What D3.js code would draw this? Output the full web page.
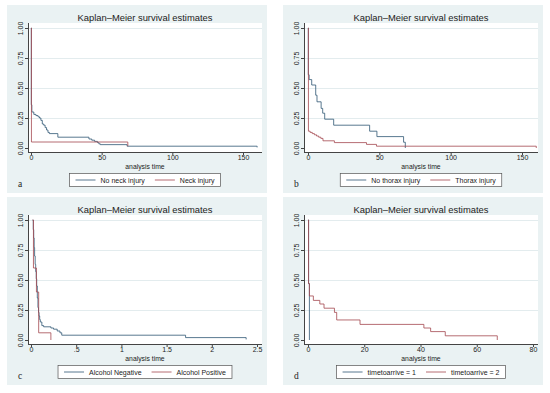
<!DOCTYPE html>
<html>
<head>
<meta charset="utf-8">
<script src="https://cdnjs.cloudflare.com/ajax/libs/d3/7.8.5/d3.min.js"></script>
<style>
  body { margin: 0; background: #fff; }
  svg { display: block; }
  text { font-family: "Liberation Sans", Arial, sans-serif; fill: #222; }
  .letter { font-family: "Liberation Serif", "Times New Roman", serif; }
</style>
</head>
<body>
<div class="Chart"></div>
<script>
// Kaplan-Meier panels (a-d)

// y axis (same for every panel)
let yTicks = [0, 0.25, 0.5, 0.75, 1];

// a: neck injury
let xTicksA = [0, 50, 100, 150];
let xLabelsA = ["0", "50", "100", "150"];
let noNeckTime = [0, 0.2, 0.6, 2, 3.5, 5, 6, 7, 8, 9, 10, 11, 12, 13, 19, 41, 43, 45, 47, 48, 49, 68, 160];
let noNeckSurv = [1, 0.36, 0.30, 0.28, 0.27, 0.26, 0.25, 0.23, 0.20, 0.19, 0.17, 0.15, 0.13, 0.12, 0.09, 0.075, 0.065, 0.055, 0.045, 0.035, 0.028, 0.015, 0.005];
let neckTime = [0, 0.3, 68.5];
let neckSurv = [1, 0.05, 0.015];

// b: thorax injury
let xTicksB = [0, 50, 100, 150];
let xLabelsB = ["0", "50", "100", "150"];
let noThoraxTime = [0, 0.2, 0.8, 2.6, 5.4, 6.3, 9.2, 10.3, 11.7, 18, 43.2, 48.3, 67, 68.2];
let noThoraxSurv = [1, 0.61, 0.57, 0.525, 0.44, 0.385, 0.33, 0.29, 0.24, 0.19, 0.14, 0.095, 0.048, 0];
let thoraxTime = [0, 0.3, 1.5, 3, 4.5, 6, 7.5, 9, 10.5, 18.5, 41, 48, 160];
let thoraxSurv = [1, 0.14, 0.13, 0.12, 0.11, 0.10, 0.09, 0.08, 0.06, 0.045, 0.03, 0.015, 0];

// c: alcohol
let xTicksC = [0, 0.5, 1, 1.5, 2, 2.5];
let xLabelsC = ["0", ".5", "1", "1.5", "2", "2.5"];
let alcNegTime = [0.018, 0.025, 0.03, 0.035, 0.04, 0.046, 0.052, 0.058, 0.063, 0.07, 0.077, 0.083, 0.089, 0.096, 0.103, 0.12, 0.14, 0.22, 0.25, 0.29, 0.32, 0.34, 1.71, 2.38];
let alcNegSurv = [1, 0.92, 0.85, 0.77, 0.7, 0.63, 0.57, 0.51, 0.45, 0.35, 0.27, 0.23, 0.2, 0.17, 0.15, 0.12, 0.11, 0.10, 0.09, 0.075, 0.06, 0.04, 0.02, 0.005];
let alcPosTime = [0.018, 0.027, 0.06, 0.085, 0.22];
let alcPosSurv = [1, 0.6, 0.4, 0.06, 0];

// d: time to arrive
let xTicksD = [0, 20, 40, 60, 80];
let xLabelsD = ["0", "20", "40", "60", "80"];
let arrive1Time = [0, 0.2, 0.5];
let arrive1Surv = [1, 0.47, 0];
let arrive2Time = [0, 0.2, 0.5, 1.9, 4.2, 5.7, 9.4, 10.2, 18.5, 41.2, 43.6, 48.8, 67.3];
let arrive2Surv = [1, 0.47, 0.367, 0.33, 0.30, 0.265, 0.23, 0.167, 0.13, 0.10, 0.07, 0.035, 0];

let navy = "#2f5773";
let maroon = "#a3474f";

let svgWidth = 550;
let svgHeight = 393;

let svg = d3.select(".Chart")
  .append("svg")
  .attr("width", svgWidth)
  .attr("height", svgHeight);

// panel layout (local coords, every panel is the same box shifted)
let box = { left: 7, top: 5, width: 260, height: 188 };
let plot = { left: 28, right: 262, top: 23, bottom: 152 };

let panels = [
  { letter: "a", dx: 0, dy: 0, xTicks: xTicksA, xLabels: xLabelsA, xRange: [31, 243],
    series: [[noNeckTime, noNeckSurv, navy], [neckTime, neckSurv, maroon]],
    legend: ["No neck injury", "Neck injury"] },
  { letter: "b", dx: 276, dy: 0, xTicks: xTicksB, xLabels: xLabelsB, xRange: [32, 246],
    series: [[noThoraxTime, noThoraxSurv, navy], [thoraxTime, thoraxSurv, maroon]],
    legend: ["No thorax injury", "Thorax injury"] },
  { letter: "c", dx: 0, dy: 192, xTicks: xTicksC, xLabels: xLabelsC, xRange: [31, 257],
    series: [[alcNegTime, alcNegSurv, navy], [alcPosTime, alcPosSurv, maroon]],
    legend: ["Alcohol Negative", "Alcohol Positive"] },
  { letter: "d", dx: 276, dy: 192, xTicks: xTicksD, xLabels: xLabelsD, xRange: [32, 257],
    series: [[arrive1Time, arrive1Surv, navy], [arrive2Time, arrive2Surv, maroon]],
    legend: ["timetoarrive = 1", "timetoarrive = 2"] }
];

let yScale = d3.scaleLinear().domain([0, 1]).range([148, 28]);

panels.forEach(function(p) {
  let g = svg.append("g").attr("transform", `translate(${p.dx}, ${p.dy})`);

  let xScale = d3.scaleLinear()
    .domain([p.xTicks[0], p.xTicks[p.xTicks.length - 1]])
    .range(p.xRange);

  // background + white plot region
  g.append("rect")
    .attr("x", box.left).attr("y", box.top)
    .attr("width", box.width).attr("height", box.height)
    .attr("fill", "#eaf2f3");

  g.append("rect")
    .attr("x", plot.left).attr("y", plot.top)
    .attr("width", plot.right - plot.left).attr("height", plot.bottom - plot.top)
    .attr("fill", "#fff");

  // gridlines
  g.selectAll(".grid")
    .data(yTicks.slice(1))
    .enter()
    .append("line")
    .attr("x1", plot.left).attr("x2", plot.right)
    .attr("y1", d => Math.round(yScale(d)) + 0.5)
    .attr("y2", d => Math.round(yScale(d)) + 0.5)
    .attr("stroke", "#e3ecee")
    .attr("stroke-width", 1);

  // y axis
  let yAxis = d3.axisLeft(yScale).tickValues(yTicks).tickFormat(d3.format(".2f")).tickSize(3);
  let yg = g.append("g").attr("transform", `translate(${plot.left}, 0)`).call(yAxis);
  yg.select(".domain").remove();
  yg.selectAll(".tick line").attr("stroke", "#444");
  yg.selectAll(".tick text")
    .attr("transform", "rotate(-90)")
    .attr("x", 0).attr("y", -5.5).attr("dy", 0)
    .style("text-anchor", "middle")
    .style("font-size", "7px")
    .style("font-family", "'Liberation Sans', Arial, sans-serif")
    .attr("fill", "#222");
  g.append("line")
    .attr("x1", plot.left + 0.5).attr("x2", plot.left + 0.5)
    .attr("y1", plot.top).attr("y2", plot.bottom)
    .attr("stroke", "#444");

  // x axis
  let xAxis = d3.axisBottom(xScale).tickValues(p.xTicks)
    .tickFormat((d, i) => p.xLabels[i]).tickSize(3);
  let xg = g.append("g").attr("transform", `translate(0, ${plot.bottom})`).call(xAxis);
  xg.select(".domain").remove();
  xg.selectAll(".tick line").attr("stroke", "#444");
  xg.selectAll(".tick text")
    .attr("y", 3.5).attr("dy", "0.71em")
    .style("font-size", "7px")
    .style("font-family", "'Liberation Sans', Arial, sans-serif")
    .attr("fill", "#222");
  g.append("line")
    .attr("x1", plot.left).attr("x2", plot.right)
    .attr("y1", plot.bottom + 0.5).attr("y2", plot.bottom + 0.5)
    .attr("stroke", "#444");

  // survival curves
  let line = d3.line()
    .curve(d3.curveStepAfter)
    .x(d => xScale(d[0]))
    .y(d => yScale(d[1]));

  p.series.forEach(function(s) {
    g.append("path")
      .datum(d3.zip(s[0], s[1]))
      .attr("d", line)
      .attr("fill", "none")
      .attr("stroke", s[2])
      .attr("stroke-width", 0.8);
  });

  // titles
  g.append("text")
    .attr("x", 145).attr("y", 21)
    .attr("text-anchor", "middle")
    .style("font-size", "9.4px")
    .text("Kaplan\u2013Meier survival estimates");

  g.append("text")
    .attr("x", 145).attr("y", 169)
    .attr("text-anchor", "middle")
    .style("font-size", "6.8px")
    .text("analysis time");

  g.append("text")
    .attr("class", "letter")
    .attr("x", 18).attr("y", 187)
    .style("font-size", "9.5px")
    .text(p.letter);

  // legend
  let lg = g.append("g");
  let lgRect = lg.append("rect")
    .attr("y", 173.5).attr("height", 13)
    .attr("fill", "#fff")
    .attr("stroke", "#555")
    .attr("stroke-width", 0.7);

  let texts = p.legend.map(function(label) {
    return lg.append("text")
      .attr("y", 182.5)
      .style("font-size", "7px")
      .text(label);
  });
  let w = texts.map(t => t.node().getComputedTextLength());
  let total = 6 + 20 + 5 + w[0] + 10 + 20 + 5 + w[1] + 6;
  let x0 = 145 - total / 2;
  lgRect.attr("x", x0).attr("width", total);

  let cx = x0 + 6;
  [navy, maroon].forEach(function(c, i) {
    lg.append("line")
      .attr("x1", cx).attr("x2", cx + 20)
      .attr("y1", 180).attr("y2", 180)
      .attr("stroke", c).attr("stroke-width", 0.8);
    texts[i].attr("x", cx + 25);
    cx += 25 + w[i] + 10;
  });
});
</script>
</body>
</html>
